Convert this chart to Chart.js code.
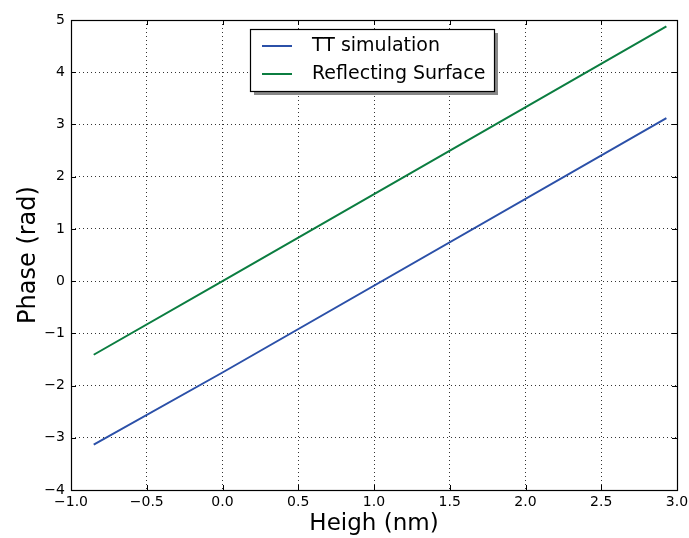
<!DOCTYPE html>
<html>
<head>
<meta charset="utf-8">
<script src="https://cdn.jsdelivr.net/npm/chart.js@4"></script>
<style>
  html, body { margin: 0; padding: 0; background: #fff; }
  #wrap { width: 689px; height: 538px; }
</style>
</head>
<body>
<div id="wrap"><canvas id="phaseChart" width="689" height="538"></canvas></div>
<script>
// data
const heights = [-0.85, 0.0, 2.93];
const ttSimulation = [-3.13, -1.75, 3.12];
const reflectingSurface = [-1.41, 0.0, 4.88];
const seriesLabels = ['TT simulation', 'Reflecting Surface'];
const seriesColors = ['#2b50a8', '#0b7d40'];

const fontFam = '"DejaVu Sans", sans-serif';
const minus = v => String(v).replace('-', '\u2212');

// frame, inward ticks and legend box like matplotlib
const framePlugin = {
  id: 'frame',
  afterDraw(chart) {
    const { ctx, chartArea: a, scales } = chart;
    ctx.save();
    ctx.strokeStyle = '#000';
    ctx.lineWidth = 1;
    const len = 5;
    scales.x.ticks.forEach(t => {
      const px = Math.round(scales.x.getPixelForValue(t.value)) + 0.5;
      ctx.beginPath();
      ctx.moveTo(px, a.bottom); ctx.lineTo(px, a.bottom - len);
      ctx.moveTo(px, a.top); ctx.lineTo(px, a.top + len);
      ctx.stroke();
    });
    scales.y.ticks.forEach(t => {
      const py = Math.round(scales.y.getPixelForValue(t.value)) + 0.5;
      ctx.beginPath();
      ctx.moveTo(a.left, py); ctx.lineTo(a.left + len, py);
      ctx.moveTo(a.right, py); ctx.lineTo(a.right - len, py);
      ctx.stroke();
    });
    ctx.lineWidth = 1.2;
    ctx.strokeRect(Math.round(a.left) + 0.5, Math.round(a.top) + 0.5,
      Math.round(a.right - a.left), Math.round(a.bottom - a.top));

    // legend
    const bx = 250, by = 29, bw = 244, bh = 62;
    ctx.fillStyle = '#888';
    ctx.fillRect(bx + 4, by + 4, bw, bh);
    ctx.fillStyle = '#fff';
    ctx.fillRect(bx, by, bw, bh);
    ctx.strokeRect(bx + 0.5, by + 0.5, bw, bh);
    ctx.font = '19px ' + fontFam;
    ctx.textBaseline = 'middle';
    chart.data.datasets.forEach((ds, i) => {
      const y = by + 17 + i * 28;
      ctx.strokeStyle = ds.borderColor;
      ctx.lineWidth = 2;
      ctx.beginPath();
      ctx.moveTo(bx + 12, y); ctx.lineTo(bx + 42, y);
      ctx.stroke();
      ctx.fillStyle = '#000';
      ctx.fillText(ds.label, bx + 62, y);
    });
    ctx.restore();
  }
};

new Chart(document.getElementById('phaseChart').getContext('2d'), {
  type: 'line',
  data: {
    datasets: [
      {
        label: seriesLabels[0],
        data: heights.map((x, i) => ({ x, y: ttSimulation[i] })),
        borderColor: seriesColors[0],
        borderWidth: 2,
        pointRadius: 0,
        tension: 0
      },
      {
        label: seriesLabels[1],
        data: heights.map((x, i) => ({ x, y: reflectingSurface[i] })),
        borderColor: seriesColors[1],
        borderWidth: 2,
        pointRadius: 0,
        tension: 0
      }
    ]
  },
  options: {
    responsive: false,
    animation: false,
    layout: { padding: { top: 20, right: 12, left: 14, bottom: 0 } },
    plugins: { legend: { display: false }, tooltip: { enabled: false } },
    scales: {
      x: {
        type: 'linear',
        min: -1, max: 3,
        afterFit(s) { s.height = 48; s.paddingRight = 0; s.paddingLeft = 0; },
        ticks: {
          stepSize: 0.5,
          color: '#000',
          font: { family: fontFam, size: 14 },
          padding: 4,
          maxRotation: 0,
          callback: v => minus(v.toFixed(1))
        },
        grid: { color: '#000', lineWidth: 0.8, drawTicks: false },
        border: { display: false, dash: [1, 3] },
        title: {
          display: true,
          text: 'Heigh (nm)',
          color: '#000',
          font: { family: fontFam, size: 23 },
          padding: { top: 3, bottom: 0 }
        }
      },
      y: {
        type: 'linear',
        min: -4, max: 5,
        afterFit(s) { s.width = 57; },
        ticks: {
          stepSize: 1,
          color: '#000',
          font: { family: fontFam, size: 14 },
          padding: 6,
          callback: v => minus(v)
        },
        grid: { color: '#000', lineWidth: 0.8, drawTicks: false },
        border: { display: false, dash: [1, 3] },
        title: {
          display: true,
          text: 'Phase (rad)',
          color: '#000',
          font: { family: fontFam, size: 24 },
          padding: { top: 0, bottom: 0 }
        }
      }
    }
  },
  plugins: [framePlugin]
});
</script>
</body>
</html>
